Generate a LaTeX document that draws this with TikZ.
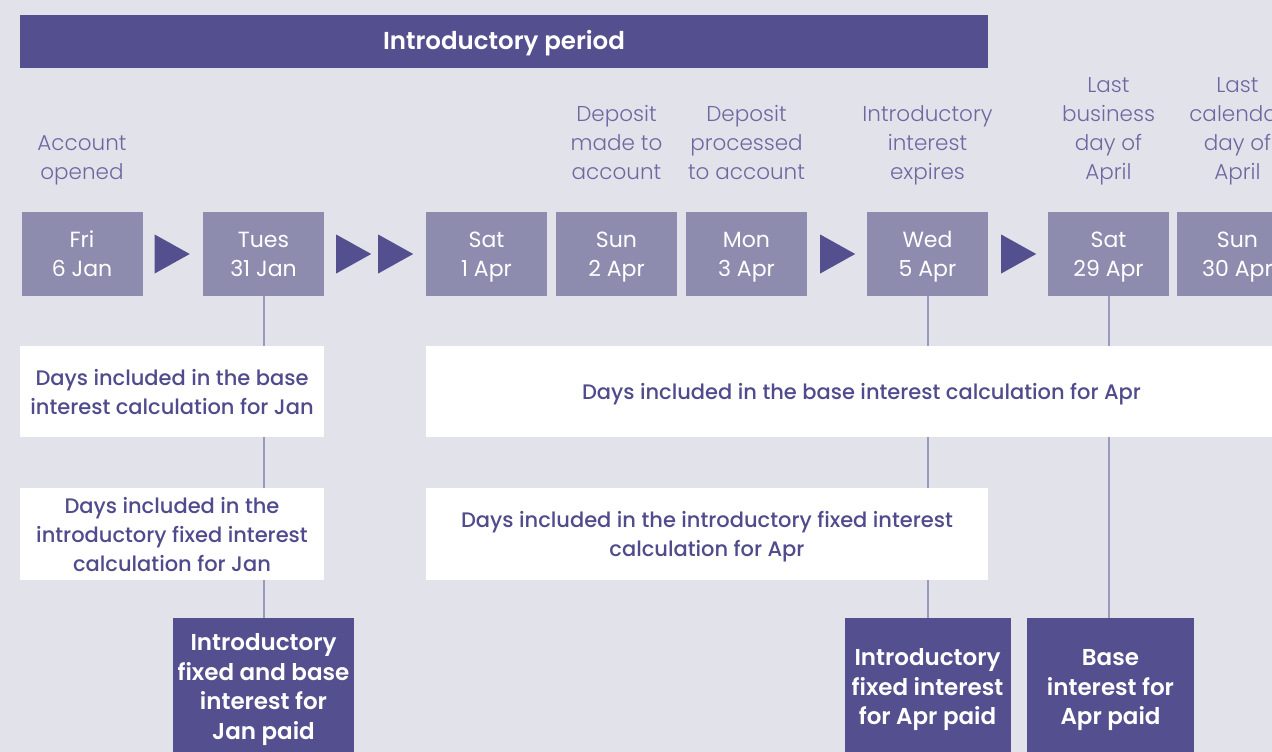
\documentclass[tikz,border=0pt]{standalone}
\usepackage{fontspec}
\setmainfont{Poppins}
\newfontfamily\lightfont{Poppins Light}
\newfontfamily\medfont{Poppins Medium}
\newfontfamily\semifont{Poppins SemiBold}
\usetikzlibrary{calc}
\definecolor{bgc}{HTML}{E2E2EB}
\definecolor{darkc}{HTML}{54508F}
\definecolor{datec}{HTML}{8D8CAF}
\definecolor{labc}{HTML}{6C68A0}
\definecolor{wtc}{HTML}{4F4B8C}
\definecolor{linec}{HTML}{9B9ABD}
\begin{document}
\begin{tikzpicture}[x=1pt,y=-1pt,
  datebox/.style={fill=datec, text=white, minimum width=121pt, minimum height=84pt, inner sep=0pt, align=center, text height=45pt, text depth=0pt, font=\fontsize{22}{29}\selectfont},
  toplabel/.style={text=labc, align=center, inner sep=0pt, text depth=0pt, anchor=south, font=\lightfont\fontsize{21.5}{29}\selectfont},
  whitebox/.style={fill=white, text=wtc, align=center, inner sep=0pt, text depth=0pt, font=\medfont\fontsize{21}{29}\selectfont},
  paidbox/.style={fill=darkc, text=white, align=center, inner sep=0pt, minimum height=138pt, text depth=0pt, font=\semifont\fontsize{23}{29.5}\selectfont},
  conn/.style={draw=linec, line width=2pt},
  tri/.style={fill=darkc}]
\useasboundingbox (0,0) rectangle (1272,752);
\clip (0,0) rectangle (1272,752);
\fill[bgc] (0,0) rectangle (1272,752);

\node[fill=darkc, text=white, minimum width=968pt, minimum height=53pt, inner sep=0pt, text height=17pt, text depth=0pt, font=\semifont\fontsize{24.5}{28}\selectfont] (bar) at (504,41.5) {Introductory period};

\node[datebox] (d1) at (82,254) {Fri\\6 Jan};
\node[datebox] (d2) at (263.5,254) {Tues\\31 Jan};
\node[datebox] (d3) at (486.5,254) {Sat\\1 Apr};
\node[datebox] (d4) at (616.5,254) {Sun\\2 Apr};
\node[datebox] (d5) at (746.5,254) {Mon\\3 Apr};
\node[datebox] (d6) at (927.5,254) {Wed\\5 Apr};
\node[datebox] (d7) at (1108.5,254) {Sat\\29 Apr};
\node[datebox] (d8) at (1237.5,254) {Sun\\30 Apr};

\node[toplabel] (l1) at (82,180) {Account\\opened};
\node[toplabel] (l4) at (616.5,180) {Deposit\\made to\\account};
\node[toplabel] (l5) at (746.5,180) {Deposit\\processed\\to account};
\node[toplabel] (l6) at (927.5,180) {Introductory\\interest\\expires};
\node[toplabel] (l7) at (1108.5,180) {Last\\business\\day of\\April};
\node[toplabel] (l8) at (1237.5,180) {Last\\calendar\\day of\\April};

\fill[tri] ($(d1.east)+(12,-19.5)$) -- ++(35,19.5) -- ++(-35,19.5) -- cycle;
\fill[tri] ($(d2.east)+(12,-19.5)$) -- ++(35,19.5) -- ++(-35,19.5) -- cycle;
\fill[tri] ($(d2.east)+(54,-19.5)$) -- ++(35,19.5) -- ++(-35,19.5) -- cycle;
\fill[tri] ($(d5.east)+(13,-19.5)$) -- ++(35,19.5) -- ++(-35,19.5) -- cycle;
\fill[tri] ($(d6.east)+(13,-19.5)$) -- ++(35,19.5) -- ++(-35,19.5) -- cycle;

\node[whitebox, minimum width=304pt, minimum height=91pt, text height=45pt] (jb) at (172,391.5) {Days included in the base\\interest calculation for Jan};
\node[whitebox, minimum width=304pt, minimum height=92pt, text height=74pt] (ji) at (172,534) {Days included in the\\introductory fixed interest\\calculation for Jan};
\node[whitebox, minimum width=871pt, minimum height=91pt, text height=16pt] (ab) at (861.5,391.5) {Days included in the base interest calculation for Apr};
\node[whitebox, minimum width=562pt, minimum height=92pt, text height=45pt] (ai) at (707,534) {Days included in the introductory fixed interest\\calculation for Apr};

\node[paidbox, minimum width=181pt, text height=104.5pt] (jp) at (263.5,687) {Introductory\\fixed and base\\interest for\\Jan paid};
\node[paidbox, minimum width=166pt, text height=75pt] (ap1) at (927.5,687) {Introductory\\fixed interest\\for Apr paid};
\node[paidbox, minimum width=167pt, text height=75pt] (ap2) at (1110.5,687) {Base\\interest for\\Apr paid};

\draw[conn] (d2.south) -- (d2.south |- jb.north);
\draw[conn] (d2.south |- jb.south) -- (d2.south |- ji.north);
\draw[conn] (d2.south |- ji.south) -- (jp.north);
\draw[conn] (d6.south) -- (d6.south |- ab.north);
\draw[conn] (d6.south |- ab.south) -- (d6.south |- ai.north);
\draw[conn] (d6.south |- ai.south) -- (ap1.north);
\draw[conn] (d7.south) -- (d7.south |- ab.north);
\draw[conn] (d7.south |- ab.south) -- (d7.south |- ap2.north);
\end{tikzpicture}
\end{document}
